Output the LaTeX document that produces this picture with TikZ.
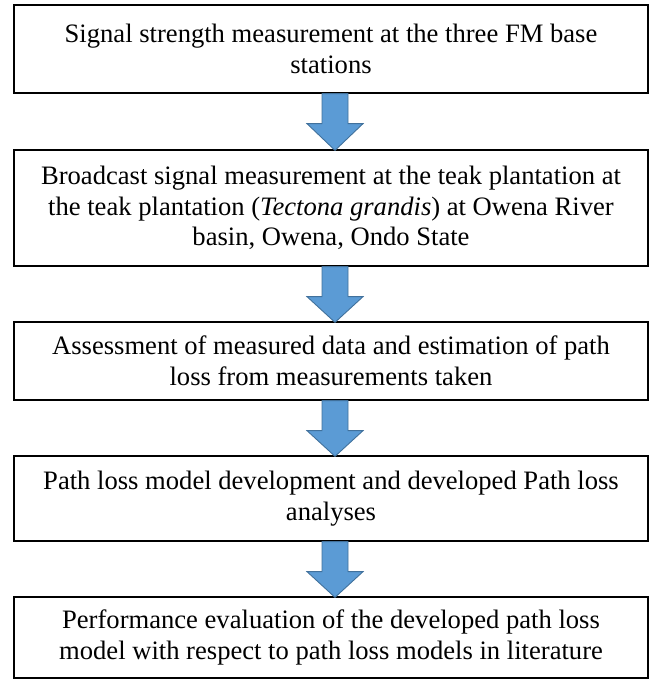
\documentclass[tikz,border=0pt]{standalone}
\usepackage{fontspec}
\setmainfont{Liberation Serif}
\usetikzlibrary{calc}
\definecolor{arrowfill}{RGB}{91,155,213}
\definecolor{arrowline}{RGB}{65,113,156}
\tikzset{
  stepbox/.style={draw=black, line width=1.3pt, rectangle, minimum width=634pt,
    inner sep=0pt, align=center, font=\fontsize{26.6}{30.6}\selectfont},
  blockarrow/.style={fill=arrowfill, draw=arrowline, line width=0.9pt, line join=miter}
}
\newcommand\flowarrow[2]{%
  \draw[blockarrow] let \p1=(#1.south), \p2=(#2.north) in
    (\x1-9pt,\y1) -- (\x1+17pt,\y1) -- (\x1+17pt,\y1-30pt) -- (\x1+32pt,\y1-30pt)
    -- (\x1+4pt,\y2-1pt) -- (\x1-24pt,\y1-30pt) -- (\x1-9pt,\y1-30pt) -- cycle;}
\begin{document}
\begin{tikzpicture}[x=1pt,y=1pt]
\useasboundingbox (0,0) rectangle (661,-679);
\node[stepbox, minimum height=88pt] (b1) at (331,-49)
  {Signal strength measurement at the three FM base\\stations};
\node[stepbox, minimum height=116pt] (b2) at (331,-208)
  {Broadcast signal measurement at the teak plantation at\\the teak plantation (\textit{Tectona grandis}) at Owena River\\basin, Owena, Ondo State};
\node[stepbox, minimum height=78pt] (b3) at (331,-361)
  {Assessment of measured data and estimation of path\\loss from measurements taken};
\node[stepbox, minimum height=85pt] (b4) at (331,-498.5)
  {Path loss model development and developed Path loss\\analyses};
\node[stepbox, minimum height=81pt] (b5) at (331,-637.5)
  {Performance evaluation of the developed path loss\\model with respect to path loss models in literature};
\flowarrow{b1}{b2}
\flowarrow{b2}{b3}
\flowarrow{b3}{b4}
\flowarrow{b4}{b5}
\end{tikzpicture}
\end{document}
